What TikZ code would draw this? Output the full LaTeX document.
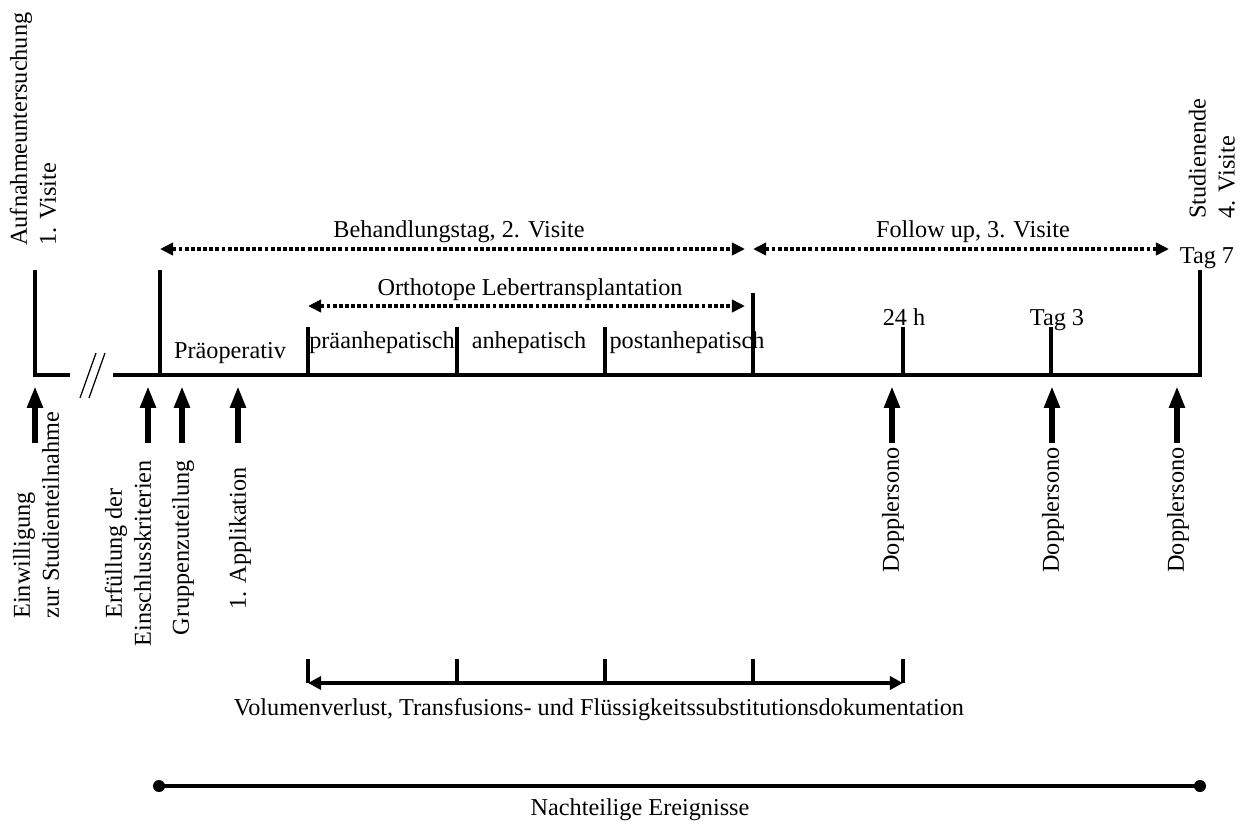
\documentclass[tikz,border=0pt]{standalone}
\usepackage{fontspec}
\setmainfont{Liberation Serif}
\usetikzlibrary{arrows.meta}

\tikzset{
  mainline/.style={line width=1.8pt,line join=miter},
  marker/.style={line width=1.9pt},
  period/.style={line width=1.9pt,dash pattern=on 2.2pt off 1.3pt,
    {Triangle[length=7.5pt,width=7pt]}-{Triangle[length=7.5pt,width=7pt]}},
  event/.style={line width=3.4pt,-{Triangle[length=12.5pt,width=8.5pt]}},
  docu/.style={line width=2.2pt,{Triangle[length=7.5pt,width=7.5pt]}-{Triangle[length=7.5pt,width=7.5pt]}},
  txt/.style={font=\fontsize{13.8}{16.5}\selectfont,inner sep=0pt},
  vtext/.style={txt,rotate=90},
}

\begin{document}
\begin{tikzpicture}[x=0.02cm,y=-0.02cm]
        \useasboundingbox (0,0) rectangle (1248,823);
        % Zeitachse
        \coordinate (v1) at (35,270);
        \coordinate (s1) at (35,375);
        \coordinate (b1) at (70,375);
        \coordinate (b2) at (113,375);
        \coordinate (s2) at (1200,375);
        \coordinate (v2) at (1200,270);
        \draw[mainline] (v1) -- (s1) -- (b1);
        \draw[mainline] (b2) -- (s2) -- (v2);
        \draw[line width=0.7pt] (80,398) -- (96,353);
        \draw[line width=0.7pt] (89,398) -- (105,353);
        % Striche auf der Achse
        \foreach \n/\x/\y in {t1/160/270,t2/308/327,t3/457/327,t4/605/327,t5/753/293,t6/903/327,t7/1051/327}{
            \coordinate (\n top) at (\x,\y);
            \coordinate (\n) at (\x,375);
            \draw[marker] (\n top) -- (\n);
        }
        % Phasen
        \coordinate (beh1) at (160,249);
        \coordinate (beh2) at (745,249);
        \coordinate (fol1) at (753,249);
        \coordinate (fol2) at (1169,249);
        \coordinate (olt1) at (308,306);
        \coordinate (olt2) at (745,306);
        \draw[period] (beh1) -- (beh2);
        \draw[period] (fol1) -- (fol2);
        \draw[period] (olt1) -- (olt2);
        \node[txt,anchor=base] (behandlung) at (459,237) {Behandlungstag, 2. Visite};
        \node[txt,anchor=base] (follow) at (973,237) {Follow up, 3. Visite};
        \node[txt,anchor=base] (olt) at (530,295) {Orthotope Lebertransplantation};
        \node[txt,anchor=base] (praeop) at (230,358) {Präoperativ};
        \node[txt,anchor=base] (prae) at (382,348) {präanhepatisch};
        \node[txt,anchor=base] (anhep) at (529,348) {anhepatisch};
        \node[txt,anchor=base] (post) at (687,348) {postanhepatisch};
        \node[txt,anchor=base] (h24) at (904,325) {24 h};
        \node[txt,anchor=base] (tag3) at (1057,325) {Tag 3};
        \node[txt,anchor=base] (tag7) at (1207,263) {Tag 7};
        \node[vtext,align=left,anchor=west] (aufnahme) at (33,246) {Aufnahmeuntersuchung\\1. Visite};
        \node[vtext,align=left,anchor=west] (studienende) at (1212,219) {Studienende\\4. Visite};
        % Ereignisse unter der Achse
        \foreach \n/\x in {e1/35,e2/148,e3/182,e4/238,e5/892,e6/1052,e7/1177}{
            \coordinate (\n base) at (\x,443);
            \coordinate (\n tip) at (\x,386);
            \draw[event] (\n base) -- (\n tip);
        }
        \node[vtext,align=left,anchor=west] (einw) at (36,619) {Einwilligung\\zur Studienteilnahme};
        \node[vtext,align=center,anchor=east] (erf) at (128,460) {Erfüllung der\\Einschlusskriterien};
        \node[vtext,anchor=east] (grp) at (183,460) {Gruppenzuteilung};
        \node[vtext,anchor=east] (appl) at (240,467) {1. Applikation};
        \node[vtext,anchor=east] (dop1) at (893,447) {Dopplersono};
        \node[vtext,anchor=east] (dop2) at (1053,447) {Dopplersono};
        \node[vtext,anchor=east] (dop3) at (1178,447) {Dopplersono};
        % Dokumentation
        \coordinate (d1) at (308,683);
        \coordinate (d5) at (903,683);
        \draw[docu] (d1) -- (d5);
        \foreach \x in {308,457,605,753,903}
            \draw[marker,line width=2.2pt] (\x,659) -- (\x,683);
        \node[txt,anchor=base] (volumen) at (599,715) {Volumenverlust, Transfusions- und Flüssigkeitssubstitutionsdokumentation};
        % Nachteilige Ereignisse
        \coordinate (n1) at (159,786);
        \coordinate (n2) at (1200,786);
        \draw[line width=2.5pt] (n1) -- (n2);
        \fill (n1) circle (6);
        \fill (n2) circle (6);
        \node[txt,anchor=base] (nachteil) at (640,815) {Nachteilige Ereignisse};
    \end{tikzpicture}
\end{document}
